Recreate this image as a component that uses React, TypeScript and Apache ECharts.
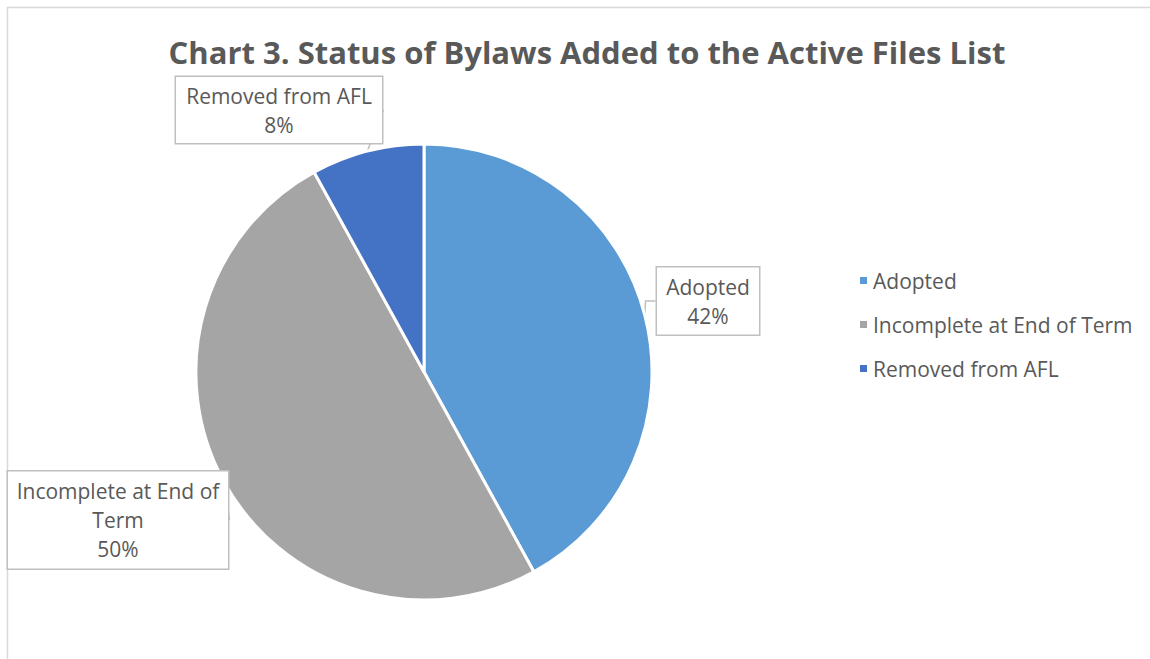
import React, { useEffect, useRef } from "react";
import * as echarts from "echarts";

const categories = ["Adopted", "Incomplete at End of Term", "Removed from AFL"];
const values = [42, 50, 8];
const labelTexts = ["Adopted\n{d}%", "Incomplete at End of\nTerm\n{d}%", "Removed from AFL\n{d}%"];
const colors = ["#5B9BD5", "#A5A5A5", "#4472C4"];
const labelCenters = [
  [708, 301],
  [118, 520],
  [279, 110],
];
const labelSizes = [
  [102, 67],
  [220, 97],
  [206, 66],
];

export default function App() {
  const ref = useRef<HTMLDivElement>(null);
  useEffect(() => {
    if (!ref.current) return;
    const chart = echarts.init(ref.current, null, { renderer: "svg" });
    const font = "'Open Sans', 'Noto Sans', sans-serif";
    chart.setOption({
      animation: false,
      backgroundColor: "#ffffff",
      title: {
        text: "Chart 3. Status of Bylaws Added to the Active Files List",
        left: 582,
        textAlign: "center",
        top: 31,
        textStyle: { fontFamily: font, fontSize: 31, fontWeight: "bold", color: "#595959" },
      },
      graphic: [
        {
          type: "rect",
          shape: { x: 7.5, y: 7.5, width: 1160, height: 670 },
          style: { fill: "none", stroke: "#D9D9D9", lineWidth: 1.5 },
          silent: true,
          z: -1,
        },
      ],
      legend: {
        orient: "vertical",
        left: 853,
        top: 265,
        itemWidth: 9,
        itemHeight: 9,
        itemGap: 23,
        icon: "rect",
        data: categories,
        textStyle: { fontFamily: font, fontSize: 21, color: "#595959" },
      },
      series: [
        {
          type: "pie",
          center: [424, 372],
          radius: 228,
          startAngle: 90,
          clockwise: true,
          itemStyle: { borderColor: "#ffffff", borderWidth: 3 },
          label: {
            show: true,
            position: "outside",
            fontFamily: font,
            fontSize: 21,
            lineHeight: 29,
            color: "#595959",
            backgroundColor: "#ffffff",
            borderColor: "#BFBFBF",
            borderWidth: 1.5,
            align: "center",
          },
          labelLine: { show: true, length: 10, length2: 10, lineStyle: { color: "#BFBFBF", width: 1.5 } },
          labelLayout: (p: any) => {
            const i = p.dataIndex;
            return {
              x: labelCenters[i][0],
              y: labelCenters[i][1],
              align: "center",
              verticalAlign: "middle",
            };
          },
          data: categories.map((c, i) => ({
            name: c,
            value: values[i],
            itemStyle: { color: colors[i] },
            label: {
              formatter: labelTexts[i],
              width: labelSizes[i][0] - 4,
              height: labelSizes[i][1] - 6,
              padding: [3, 2, 3, 2],
            },
          })),
        },
      ],
    });
    return () => chart.dispose();
  }, []);
  return <div ref={ref} style={{ position: "fixed", left: 0, top: 0, width: 1150, height: 659 }} />;
}
